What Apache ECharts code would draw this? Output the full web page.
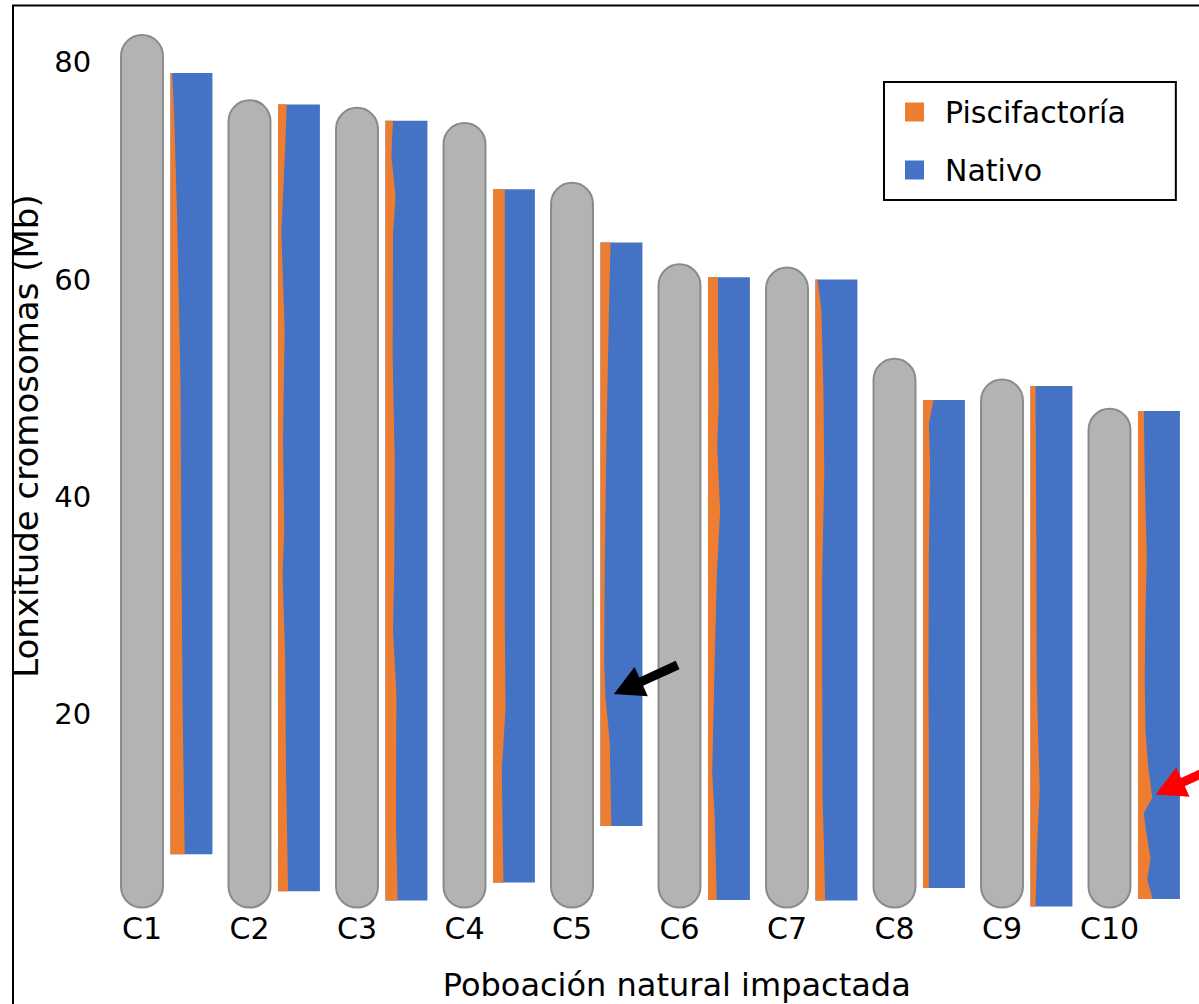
<!DOCTYPE html>
<html><head><meta charset="utf-8">
<script src="https://cdn.jsdelivr.net/npm/echarts@6/dist/echarts.min.js"></script>
<style>html,body{margin:0;padding:0;background:#fff}#c{width:1199px;height:1004px}</style>
</head><body><div id="c"></div>
<script>
// ---- data ----
const categories = ['C1','C2','C3','C4','C5','C6','C7','C8','C9','C10'];
// chromosome (grey) extent, Mb
const chromosomeStart = [2.2,2.2,2.2,2.2,2.2,2.2,2.2,2.2,2.2,2.2];
const chromosomeEnd   = [82.5,76.5,75.8,74.4,68.9,61.4,61.1,52.7,50.8,48.1];
// ancestry-painted segment extent, Mb
const segmentStart = [7.1,3.7,2.85,4.5,9.7,2.9,2.85,4.0,2.3,3.0];
const segmentEnd   = [79.0,76.1,74.6,68.3,63.4,60.2,60.0,48.9,50.2,47.9];
// farmed (Piscifactoría) ancestry share along each chromosome: [position Mb, % farmed]
const piscifactoriaShare = [
  [[79.0,4],[75,9],[65.4,16],[50.4,24],[35.4,26],[20.5,29],[7.1,34]],
  [[76.1,21],[71.9,17],[64.4,8],[55.4,16],[45.4,12],[36.9,15],[32.9,11],[25.4,17],[15.4,19],[3.7,24]],
  [[74.6,18],[71.4,14],[67.6,24],[64.3,18],[52.9,17],[43.4,22],[33.8,21],[27.6,18],[21.9,26],[10.0,25],[2.85,29]],
  [[68.3,28],[29.1,28],[20.5,30],[14.8,21],[4.5,25]],
  [[63.4,24],[56.7,20],[44.7,14],[32.7,10],[24.7,9],[21.5,12],[17.5,22],[9.7,26]],
  [[60.2,24],[54.7,24],[48.7,26],[44.7,22],[38.7,29],[32.7,21],[24.7,16],[14.7,10],[10.7,16],[2.9,21]],
  [[60.0,5],[57.3,14],[49.7,19],[42.2,21],[32.8,16],[23.4,16],[12.1,17],[8.3,20],[2.85,23]],
  [[48.9,25],[46.7,14],[42.9,17],[34.7,14],[23.4,13],[15.9,14],[4.0,14]],
  [[50.2,12],[35.9,14],[23.2,15],[16.9,19],[13.1,22],[8.0,16],[2.3,12]],
  [[47.9,14],[42.3,16],[34.3,21],[29.6,18],[23.2,16],[18.5,18],[15.3,24],[12.3,34],[10.9,14],[9.6,18],[6.7,30],[4.8,22],[3.0,35]]
];
// annotation arrows: chromosome index and position (Mb)
const arrowChromosome = [4, 9];
const arrowPosition = [21.85, 12.6];
const yTicks = [20, 40, 60, 80];

// ---- layout / style ----
const FONT = 'DejaVu Sans';
const ORANGE = '#ED7D31', BLUE = '#4472C4';
const GREY_W = 0.39, BAR_W = 0.39, BAR_OFF = 0.46;
const ARROW_STYLE = [{dx: 0.32, color: '#000000'}, {dx: 0.42, color: '#FF0000'}];

const chart = echarts.init(document.getElementById('c'), null, {renderer: 'svg'});

function greyRender(params, api) {
  const i = api.value(0);
  const p0 = api.coord([i, api.value(1)]);
  const p1 = api.coord([i, api.value(2)]);
  const band = api.size([1, 0])[0];
  const w = band * GREY_W;
  return {type: 'rect', shape: {x: p0[0] - w / 2, y: p1[1], width: w, height: p0[1] - p1[1], r: w / 2},
    style: {fill: '#B3B3B3', stroke: '#8A8A8A', lineWidth: 2}};
}
function nativeRender(params, api) {
  const i = api.value(0);
  const p0 = api.coord([i, api.value(1)]);
  const p1 = api.coord([i, api.value(2)]);
  const band = api.size([1, 0])[0];
  const w = band * BAR_W;
  const cx = p0[0] + band * BAR_OFF;
  return {type: 'rect', shape: {x: cx - w / 2, y: p1[1], width: w, height: p0[1] - p1[1]},
    style: {fill: BLUE}};
}
function farmedRender(params, api) {
  const i = api.value(0);
  const p0 = api.coord([i, api.value(1)]);
  const p1 = api.coord([i, api.value(2)]);
  const band = api.size([1, 0])[0];
  const w = band * BAR_W;
  const x0 = p0[0] + band * BAR_OFF - w / 2;
  const pts = [[x0, p1[1]]];
  piscifactoriaShare[i].forEach(function (d) {
    const p = api.coord([i, d[0]]);
    pts.push([x0 + w * d[1] / 100, p[1]]);
  });
  pts.push([x0, p0[1]]);
  return {type: 'polygon', shape: {points: pts}, style: {fill: ORANGE}};
}
function arrowRender(params, api) {
  const k = params.dataIndex;
  const i = api.value(0);
  const p = api.coord([i, api.value(1)]);
  const band = api.size([1, 0])[0];
  const w = band * BAR_W;
  const x0 = p[0] + band * BAR_OFF - w / 2;
  const tip = [x0 + w * ARROW_STYLE[k].dx, p[1]];
  const d = [0.91, -0.415], n = [0.415, 0.91];
  const Lh = 30, Wh = 16, Ws = 4.6, Ls = 40;
  const P = (u, v) => [tip[0] + d[0] * u + n[0] * v, tip[1] + d[1] * u + n[1] * v];
  const pts = [P(0, 0), P(Lh, Wh), P(Lh, Ws), P(Lh + Ls, Ws), P(Lh + Ls, -Ws), P(Lh, -Ws), P(Lh, -Wh)];
  return {type: 'polygon', shape: {points: pts}, style: {fill: ARROW_STYLE[k].color}};
}

const option = {
  animation: false,
  backgroundColor: '#fff',
  grid: {left: 88.25, right: 35.75, top: 18.7, bottom: 72.5, outerBoundsMode: 'none', containLabel: false},
  legend: {
    orient: 'vertical', left: 884, top: 82,
    data: ['Piscifactoría', 'Nativo'], icon: 'rect',
    itemWidth: 19, itemHeight: 19, itemGap: 28,
    borderColor: '#000', borderWidth: 2, padding: [15, 50, 15, 21],
    textStyle: {fontFamily: FONT, fontSize: 30, color: '#000', padding: [0, 0, 0, 16]}
  },
  xAxis: {
    type: 'category', data: categories,
    axisLine: {show: false}, axisTick: {show: false},
    axisLabel: {fontFamily: FONT, fontSize: 30, color: '#000', margin: -18},
    name: 'Poboación natural impactada', nameLocation: 'middle', nameGap: 37,
    nameTextStyle: {fontFamily: FONT, fontSize: 32, color: '#000', padding: [0, 0, 0, 102]}
  },
  yAxis: {
    type: 'value', min: 0, max: 84, interval: 20,
    splitLine: {show: false}, axisLine: {show: false}, axisTick: {show: false},
    axisLabel: {fontFamily: FONT, fontSize: 29, color: '#000', margin: -3, padding: [6, 0, 0, 0],
      formatter: function (v) { return yTicks.indexOf(v) >= 0 ? String(v) : ''; }},
    name: 'Lonxitude cromosomas (Mb)', nameLocation: 'middle', nameRotate: 90, nameGap: 44,
    nameTextStyle: {fontFamily: FONT, fontSize: 34, color: '#000', padding: [0, 0, 0, 78]}
  },
  graphic: [{type: 'rect', silent: true, z: 100,
    shape: {x: 13, y: 5.5, width: 1300, height: 1100},
    style: {fill: 'none', stroke: '#000', lineWidth: 2}}],
  series: [
    {type: 'custom', name: 'chromosome', renderItem: greyRender, encode: {x: 0, y: [1, 2]},
      data: categories.map((c, i) => [i, chromosomeStart[i], chromosomeEnd[i]])},
    {type: 'custom', name: 'Nativo', itemStyle: {color: BLUE}, renderItem: nativeRender, encode: {x: 0, y: [1, 2]},
      data: categories.map((c, i) => [i, segmentStart[i], segmentEnd[i]])},
    {type: 'custom', name: 'Piscifactoría', itemStyle: {color: ORANGE}, renderItem: farmedRender, encode: {x: 0, y: [1, 2]},
      data: categories.map((c, i) => [i, segmentStart[i], segmentEnd[i]])},
    {type: 'custom', name: 'arrows', renderItem: arrowRender, encode: {x: 0, y: 1}, z: 5,
      data: arrowChromosome.map((c, k) => [c, arrowPosition[k]])}
  ]
};
chart.setOption(option);
</script></body></html>
